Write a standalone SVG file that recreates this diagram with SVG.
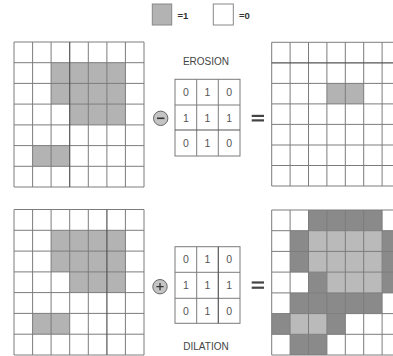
<svg xmlns="http://www.w3.org/2000/svg" width="393" height="356" viewBox="0 0 393 356">
<style>
.g{fill:none;stroke:#7c7c7c;stroke-width:1}
.gd{fill:none;stroke:#555;stroke-width:1.2}
.on{fill:#b3b3b3}
.dk{fill:#8a8a8a}
.lt{fill:#bababa}
.k{fill:#fff;stroke:#7a7a7a;stroke-width:1}
.kt{font-family:"Liberation Sans",Arial,sans-serif;font-size:10.5px;fill:#555;text-anchor:middle}
.lbl{font-family:"Liberation Sans",Arial,sans-serif;font-size:10px;fill:#444;text-anchor:middle}
.leg{font-family:"Liberation Sans",Arial,sans-serif;font-size:9.5px;fill:#333;font-weight:bold}
.op{fill:#c4c4c4;stroke:#666;stroke-width:1}
.eq{fill:#444}
</style>
<rect width="393" height="356" fill="#fff"/>

<g id="legend">
<rect x="152.3" y="4" width="19.4" height="21" fill="#b3b3b3" stroke="#888" stroke-width="1"/>
<text class="leg" x="177.5" y="19">=1</text>
<rect x="213.3" y="4" width="20" height="21" fill="#fff" stroke="#888" stroke-width="1"/>
<text class="leg" x="239" y="19">=0</text>
</g>

<g id="grid-top-left">
<rect class="on" x="51.1" y="62.7" width="74.3" height="41.4"/>
<rect class="on" x="69.7" y="104.1" width="55.7" height="20.8"/>
<rect class="on" x="32.6" y="145.6" width="37.1" height="20.7"/>
<path class="g" d="M14,42V187M32.6,42V187M51.1,42V187M88.3,42V187M106.9,42V187M125.4,42V187M144,42V187M14,42H144M14,62.7H144M14,83.4H144M14,104.1H144M14,124.9H144M14,145.6H144M14,166.3H144M14,187H144"/>
<path class="gd" d="M69.7,42V187"/>
</g>

<g id="grid-bottom-left">
<rect class="on" x="51.1" y="230.3" width="74.3" height="41.6"/>
<rect class="on" x="69.7" y="271.9" width="55.7" height="20.7"/>
<rect class="on" x="32.6" y="313.4" width="37.1" height="20.8"/>
<path class="g" d="M14,209.5V355M32.6,209.5V355M51.1,209.5V355M69.7,209.5V355M88.3,209.5V355M125.4,209.5V355M144,209.5V355M14,209.5H144M14,230.3H144M14,251.1H144M14,271.9H144M14,292.6H144M14,313.4H144M14,334.2H144M14,355H144"/>
<path class="gd" d="M106.9,209.5V355"/>
</g>

<g id="grid-top-right">
<rect class="on" x="326.9" y="83.4" width="36.8" height="20.5"/>
<path class="g" d="M271.7,42.3V186M290.1,42.3V186M308.5,42.3V186M326.9,42.3V186M345.3,42.3V186M363.7,42.3V186M382.1,42.3V186M271.7,42.3H400M271.7,83.4H400M271.7,103.9H400M271.7,124.4H400M271.7,145H400M271.7,165.5H400M271.7,186H400"/>
<path class="gd" d="M271.7,62.8H400"/>
</g>

<g id="grid-bottom-right">
<rect class="dk" x="308.5" y="210" width="73.6" height="20.7"/>
<rect class="dk" x="290.1" y="230.7" width="18.4" height="41.4"/>
<rect class="dk" x="382.1" y="230.7" width="18.4" height="62.2"/>
<rect class="dk" x="308.5" y="272.1" width="18.4" height="20.8"/>
<rect class="dk" x="290.1" y="292.9" width="92" height="20.7"/>
<rect class="dk" x="271.7" y="313.6" width="18.4" height="20.7"/>
<rect class="dk" x="326.9" y="313.6" width="18.4" height="20.7"/>
<rect class="dk" x="290.1" y="334.3" width="36.8" height="20.7"/>
<rect class="lt" x="308.5" y="230.7" width="73.6" height="41.4"/>
<rect class="lt" x="326.9" y="272.1" width="55.2" height="20.8"/>
<rect class="lt" x="290.1" y="313.6" width="36.8" height="20.7"/>
<path class="g" d="M271.7,210V355M290.1,210V355M308.5,210V355M326.9,210V355M345.3,210V355M363.7,210V355M382.1,210V355M271.7,210H400M271.7,230.7H400M271.7,251.4H400M271.7,272.1H400M271.7,292.9H400M271.7,313.6H400M271.7,334.3H400M271.7,355H400"/>
</g>

<g id="kernel-erosion">
<rect class="k" x="175" y="79.3" width="65" height="76.7"/>
<path class="g" d="M196.7,79.3V156M218.3,79.3V156M175,105H240"/>
<path class="gd" d="M175,130H240" stroke-width="1.6"/>
<text class="kt" x="185.8" y="96">0</text><text class="kt" x="207.5" y="96">1</text><text class="kt" x="229.2" y="96">0</text>
<text class="kt" x="185.8" y="121.5">1</text><text class="kt" x="207.5" y="121.5">1</text><text class="kt" x="229.2" y="121.5">1</text>
<text class="kt" x="185.8" y="147">0</text><text class="kt" x="207.5" y="147">1</text><text class="kt" x="229.2" y="147">0</text>
</g>

<g id="kernel-dilation">
<rect class="k" x="175" y="246.7" width="65" height="76.6"/>
<path class="g" d="M196.7,246.7V323.3M175,272.3H240M175,298.3H240"/>
<path class="gd" d="M218.3,246.7V323.3" stroke-width="1.4"/>
<text class="kt" x="185.8" y="263.3">0</text><text class="kt" x="207.5" y="263.3">1</text><text class="kt" x="229.2" y="263.3">0</text>
<text class="kt" x="185.8" y="289">1</text><text class="kt" x="207.5" y="289">1</text><text class="kt" x="229.2" y="289">1</text>
<text class="kt" x="185.8" y="314.6">0</text><text class="kt" x="207.5" y="314.6">1</text><text class="kt" x="229.2" y="314.6">0</text>
</g>

<g id="op-erosion">
<circle class="op" cx="160.7" cy="118.3" r="7.2"/>
<path d="M157,118.3H164.4" stroke="#333" stroke-width="1.6"/>
</g>
<g id="op-dilation">
<circle class="op" cx="160" cy="286.7" r="7.2"/>
<path d="M156.4,286.7H163.6M160,283.1V290.3" stroke="#333" stroke-width="1.3"/>
</g>

<g id="equals-top">
<rect class="eq" x="251.7" y="114.8" width="12.3" height="2.2"/>
<rect class="eq" x="251.7" y="119.3" width="12.3" height="2.2"/>
</g>
<g id="equals-bottom">
<rect class="eq" x="251.7" y="281.4" width="12.3" height="2.2"/>
<rect class="eq" x="251.7" y="286.6" width="12.3" height="2.2"/>
</g>

<text id="label-erosion" class="lbl" x="206" y="65">EROSION</text>
<text id="label-dilation" class="lbl" x="206" y="350">DILATION</text>
</svg>
